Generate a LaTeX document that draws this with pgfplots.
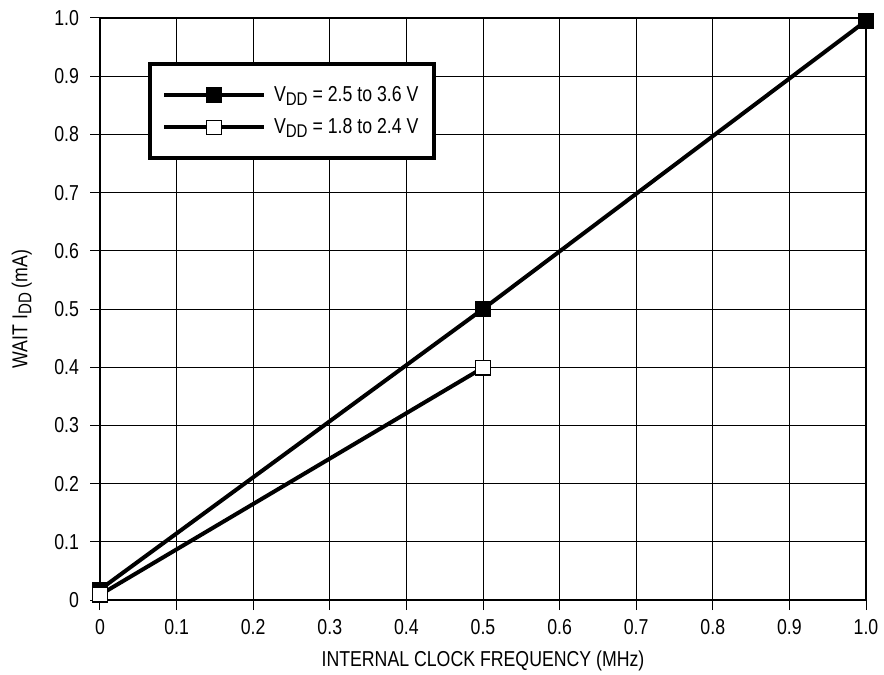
\documentclass[border=0pt]{standalone}
\usepackage{fontspec}
\setmainfont{Liberation Sans}[FakeStretch=0.82]
\usepackage{pgfplots}
\pgfplotsset{compat=1.18}
\newcommand\f{\fontsize{10.8}{13}\selectfont}
\newcommand\sub[1]{\raisebox{-0.35ex}{\fontsize{9.2}{9.2}\selectfont #1}}
\begin{document}
\begin{tikzpicture}
\begin{axis}[
  scale only axis,
  width=383pt, height=291pt,
  xmin=0, xmax=1, ymin=0, ymax=1,
  xtick={0,0.1,...,1.0},
  xticklabels={0,0.1,0.2,0.3,0.4,0.5,0.6,0.7,0.8,0.9,1.0},
  ytick={0,0.1,...,1.0},
  yticklabels={0,0.1,0.2,0.3,0.4,0.5,0.6,0.7,0.8,0.9,1.0},
  grid=major,
  major grid style={black, line width=0.5pt},
  axis line style={black, line width=0.6pt},
  tick style={black, line width=0.5pt},
  xtick pos=bottom, ytick pos=left,
  tick align=outside,
  major tick length=5pt,
  /pgf/number format/assume math mode=true,
  tick label style={font=\f},
  yticklabel style={xshift=-2pt},
  xticklabel style={yshift=-1pt},
  xlabel={INTERNAL CLOCK FREQUENCY (MHz)},
  ylabel={WAIT I\sub{DD} (mA)},
  label style={font=\f},
  xlabel style={at={(axis description cs:0.5,-0.105)}, anchor=center},
  ylabel style={at={(axis description cs:-0.102,0.5)}, anchor=center},
  legend style={
    at={(rel axis cs:0.0627,0.924)}, anchor=north west,
    draw=black, line width=2pt, fill=white,
    font=\f, inner xsep=6pt, inner ysep=9pt,
    row sep=3pt,
    cells={anchor=west},
  },
  legend image code/.code={%
    \draw[mark repeat=2, mark phase=2, #1] plot coordinates {(0pt,0pt) (25pt,0pt) (50pt,0pt)};},
  legend cell align=left,
]
\coordinate (sw) at (rel axis cs:0,0);
\coordinate (ne) at (rel axis cs:1,1);
\addplot[black, line width=2pt, mark=square*, mark size=3.6pt, mark options={solid, fill=black, line width=0.6pt}]
  coordinates {(0,0.018) (0.5,0.5) (1.0,0.995)};
\addlegendentry{\hspace{2pt}V\sub{DD} = 2.5 to 3.6 V\hspace{4.5pt}}
\addplot[black, line width=2pt, mark=square*, mark size=3.6pt, mark options={solid, fill=white, line width=0.6pt}]
  coordinates {(0,0.009) (0.5,0.399)};
\addlegendentry{\hspace{2pt}V\sub{DD} = 1.8 to 2.4 V\hspace{4.5pt}}
\end{axis}
\pgfresetboundingbox
\path ([shift={(-50pt,-37.5pt)}]sw) rectangle ([shift={(9pt,9pt)}]ne);
\end{tikzpicture}
\end{document}
